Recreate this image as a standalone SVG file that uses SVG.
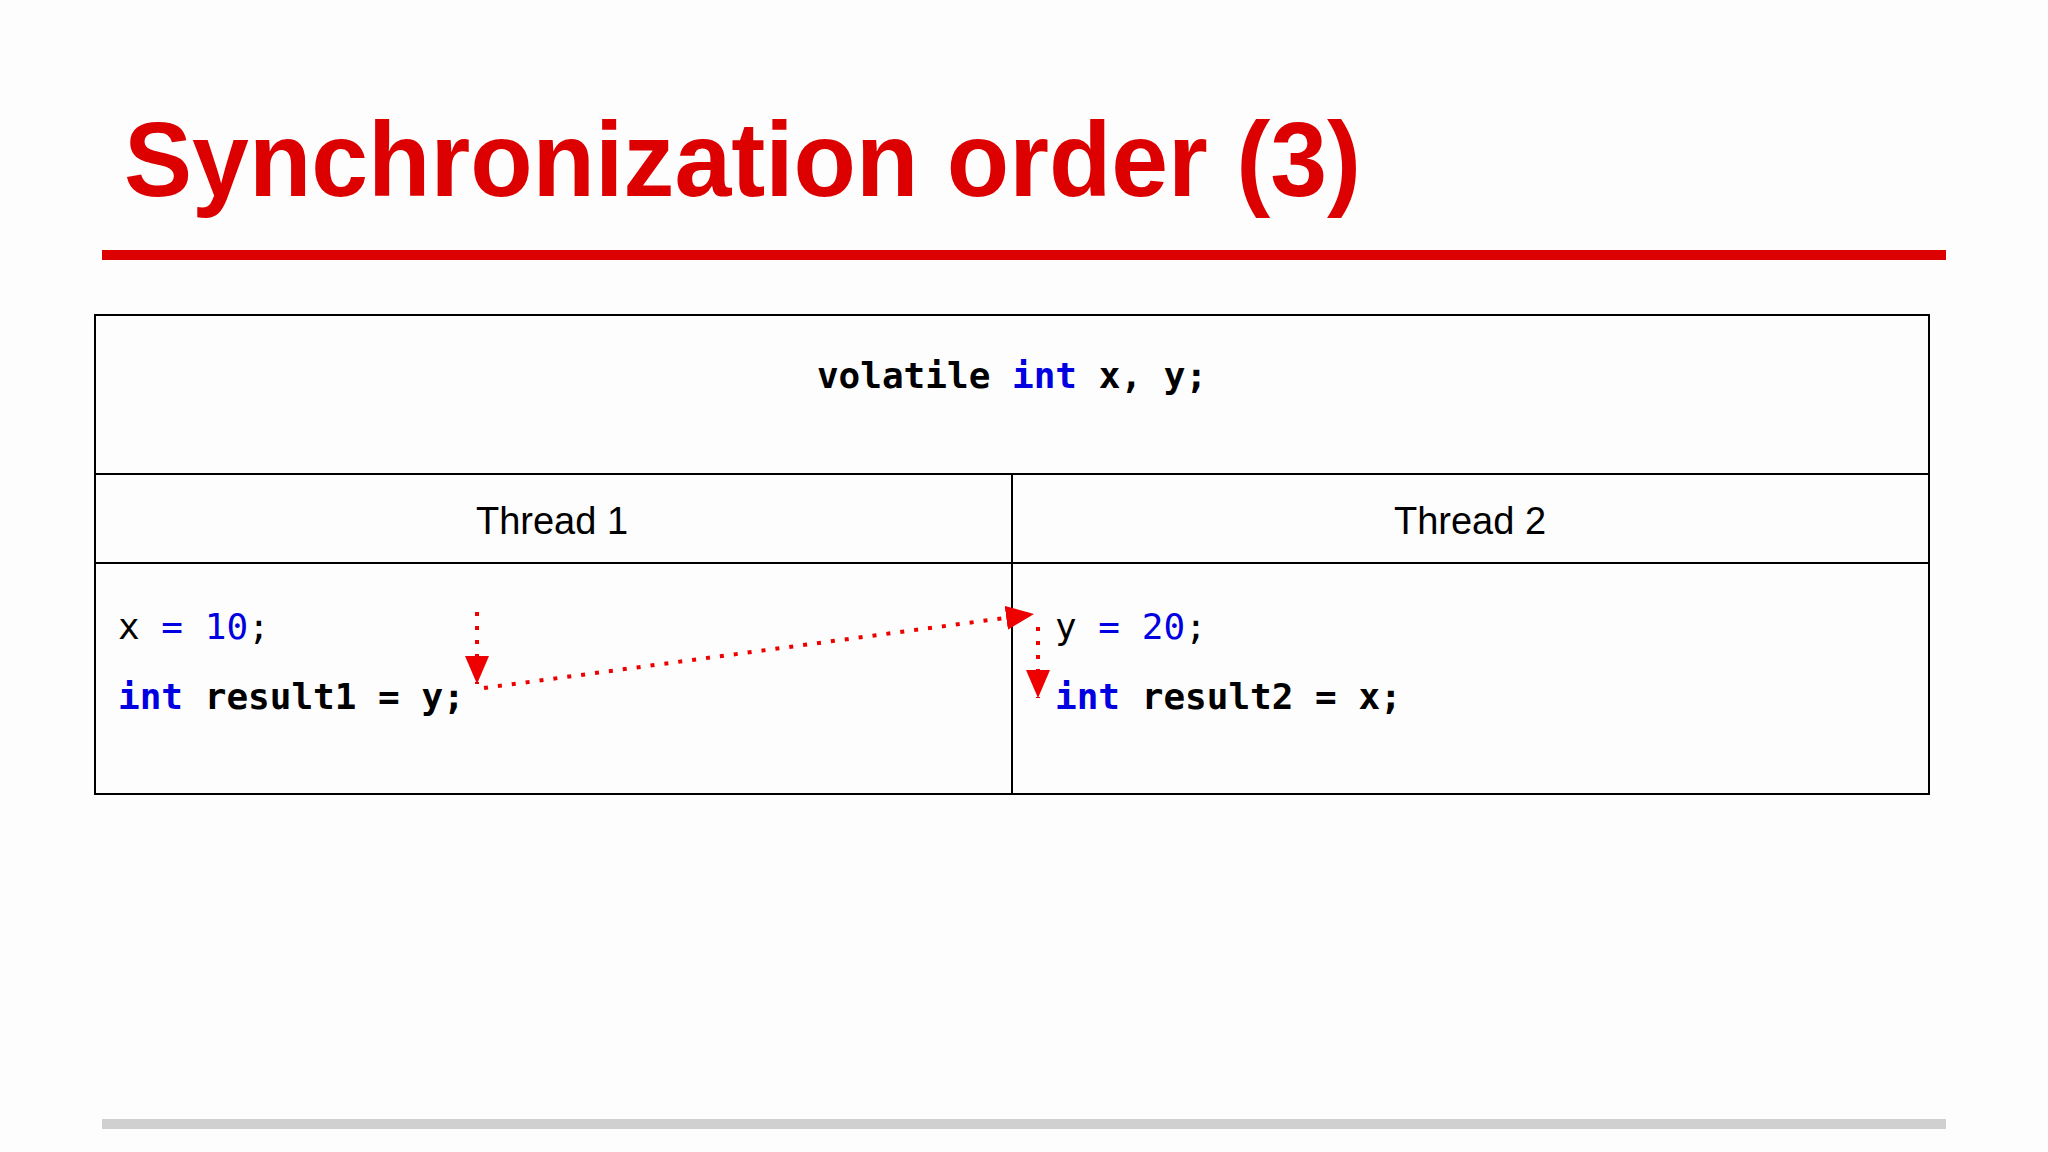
<svg xmlns="http://www.w3.org/2000/svg" width="2048" height="1152" viewBox="0 0 2048 1152">
<defs>
<style>
.code{font-family:"DejaVu Sans Mono","Liberation Mono",monospace;font-size:36px;fill:#000}
.kw{fill:#0000e0}
.th{font-family:"Liberation Sans",Arial,sans-serif;font-size:38px;fill:#000;text-anchor:middle}
.dot{stroke:#ee0000;stroke-width:4;stroke-dasharray:4 10;fill:none}
.cell{fill:none;stroke:#000;stroke-width:2}
</style>
<marker id="ah" viewBox="0 0 10 10" refX="10" refY="5" markerWidth="28" markerHeight="24" markerUnits="userSpaceOnUse" orient="auto" preserveAspectRatio="none">
<path d="M0,0 L10,5 L0,10 z" fill="#ee0000"/>
</marker>
</defs>
<rect width="2048" height="1152" fill="#fdfdfd"/>
<text x="124" y="196" font-family="Liberation Sans,Arial,sans-serif" font-weight="bold" font-size="106" fill="#dd0000" textLength="1237" lengthAdjust="spacingAndGlyphs">Synchronization order (3)</text>
<rect x="102" y="250" width="1844" height="10" fill="#dd0000"/>
<rect x="102" y="1119" width="1844" height="10" fill="#d0d0d0"/>
<g id="table">
<rect class="cell" x="95" y="315" width="1834" height="479" fill="#fff"/>
<line class="cell" x1="95" y1="474" x2="1929" y2="474"/>
<line class="cell" x1="95" y1="563" x2="1929" y2="563"/>
<line class="cell" x1="1012" y1="474" x2="1012" y2="794"/>
</g>
<g id="decl"><text class="code" x="1012" y="388" text-anchor="middle" font-weight="bold">volatile <tspan class="kw">int</tspan> x, y;</text></g>
<g id="thread1">
<text class="th" x="552" y="534">Thread 1</text>
<text class="code" x="118" y="639">x <tspan class="kw">= 10</tspan>;</text>
<text class="code" x="118" y="709" font-weight="bold"><tspan class="kw">int</tspan> result1 = y;</text>
</g>
<g id="thread2">
<text class="th" x="1470" y="534">Thread 2</text>
<text class="code" x="1055" y="639">y <tspan class="kw">= 20</tspan>;</text>
<text class="code" x="1055" y="709" font-weight="bold"><tspan class="kw">int</tspan> result2 = x;</text>
</g>
<g id="connectors">
<line class="dot" x1="477" y1="612" x2="477" y2="684" marker-end="url(#ah)"/>
<line class="dot" x1="484" y1="688" x2="1034" y2="614" marker-end="url(#ah)"/>
<line class="dot" x1="1038" y1="627" x2="1038" y2="698" marker-end="url(#ah)"/>
</g>
</svg>
